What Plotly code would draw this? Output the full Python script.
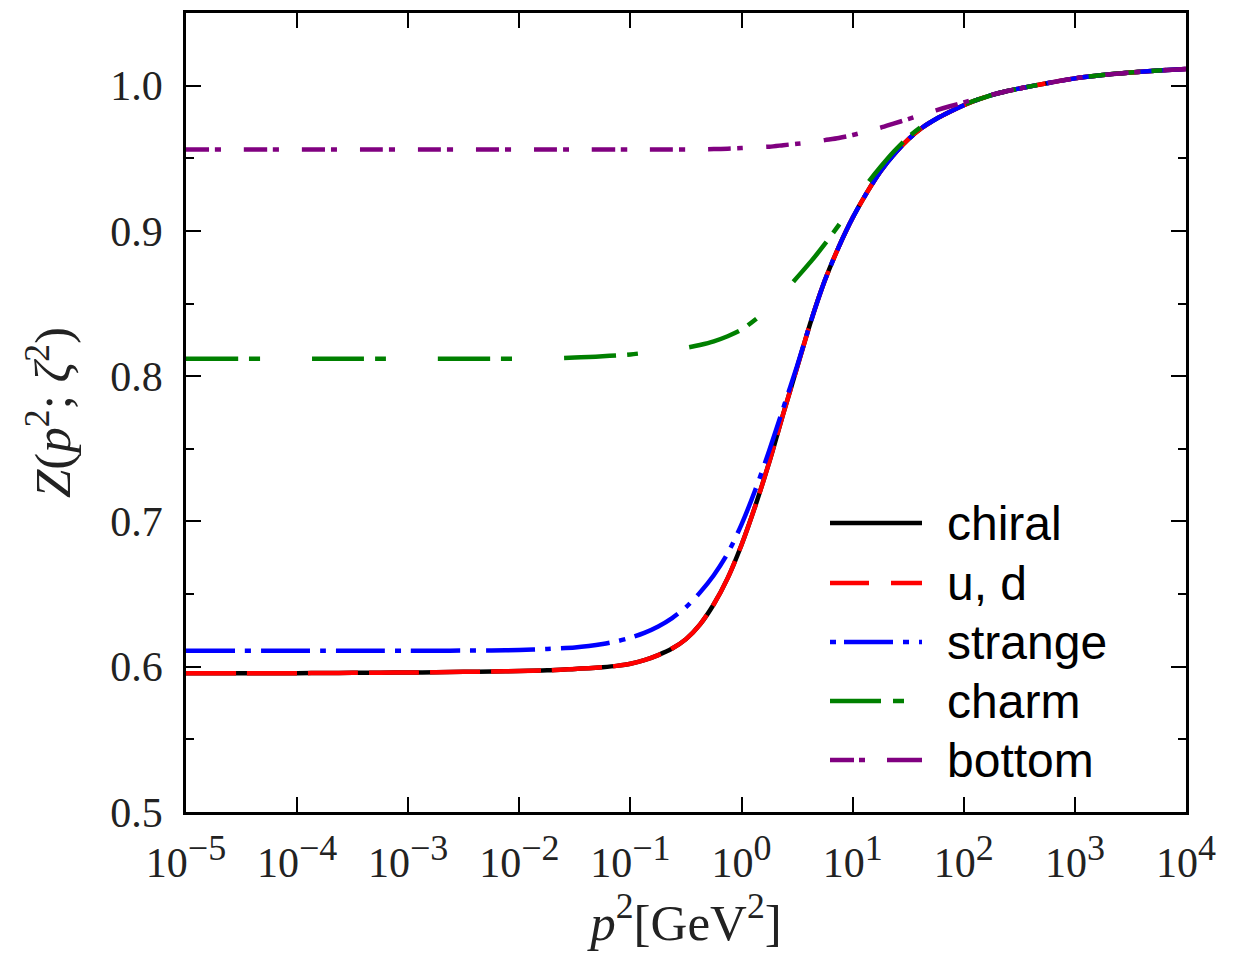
import plotly.graph_objects as go

# log10(p^2) grid, p^2 in GeV^2
log_p2 = [-5.0, -4.75, -4.5, -4.25, -4.0, -3.75, -3.5, -3.25, -3.0, -2.75, -2.5, -2.25, -2.0, -1.75, -1.5,
          -1.375, -1.25, -1.125, -1.0, -0.875, -0.75, -0.625, -0.5, -0.375, -0.25, -0.125, 0.0,
          0.125, 0.25, 0.375, 0.5, 0.625, 0.75, 0.875, 1.0, 1.125, 1.25, 1.375, 1.5, 1.625, 1.75,
          1.875, 2.0, 2.125, 2.25, 2.375, 2.5,
          2.75, 3.0, 3.25, 3.5, 3.75, 4.0]
p2 = [10 ** v for v in log_p2]

z_chiral = [0.5955, 0.5955, 0.5955, 0.5955, 0.5955, 0.5957, 0.5958, 0.5959, 0.596, 0.5962, 0.5965, 0.5967, 0.597, 0.5975, 0.5985,
            0.599, 0.5997, 0.6006, 0.602, 0.6045, 0.608, 0.6125, 0.619, 0.629, 0.643, 0.661, 0.684,
            0.711, 0.741, 0.774, 0.806, 0.838, 0.866, 0.889, 0.909, 0.926, 0.941, 0.953, 0.963, 0.971, 0.977,
            0.982, 0.9865, 0.9903, 0.9935, 0.996, 0.998,
            1.0017, 1.005, 1.0073, 1.009, 1.0104, 1.0115]
z_ud = [0.5955, 0.5955, 0.5955, 0.5955, 0.5955, 0.5957, 0.5958, 0.5959, 0.596, 0.5962, 0.5965, 0.5967, 0.597, 0.5975, 0.5985,
        0.599, 0.5997, 0.6006, 0.602, 0.6045, 0.608, 0.6125, 0.619, 0.629, 0.643, 0.661, 0.684,
        0.711, 0.741, 0.774, 0.806, 0.838, 0.866, 0.889, 0.909, 0.926, 0.941, 0.953, 0.963, 0.971, 0.977,
        0.982, 0.9865, 0.9903, 0.9935, 0.996, 0.998,
        1.0017, 1.005, 1.0073, 1.009, 1.0104, 1.0115]
z_strange = [0.611, 0.611, 0.611, 0.611, 0.611, 0.611, 0.611, 0.611, 0.611, 0.611, 0.6111, 0.6112, 0.6115, 0.6122, 0.6132,
             0.6142, 0.6156, 0.6175, 0.620, 0.6233, 0.6277, 0.6335, 0.641, 0.651, 0.663, 0.678, 0.698,
             0.722, 0.749, 0.778, 0.807, 0.838, 0.866, 0.889, 0.909, 0.926, 0.941, 0.953, 0.963, 0.971, 0.977,
             0.982, 0.9865, 0.9903, 0.9935, 0.996, 0.998,
             1.0017, 1.005, 1.0073, 1.009, 1.0104, 1.0115]
z_charm = [0.812, 0.812, 0.812, 0.812, 0.812, 0.812, 0.812, 0.812, 0.812, 0.812, 0.812, 0.812, 0.812, 0.8123, 0.8128,
           0.8132, 0.8137, 0.8143, 0.815, 0.816, 0.817, 0.818, 0.8195, 0.8215, 0.824, 0.8275, 0.832,
           0.839, 0.847, 0.857, 0.868, 0.879, 0.891, 0.904, 0.918, 0.932, 0.944, 0.955, 0.9645, 0.972, 0.978,
           0.9825, 0.9868, 0.9903, 0.9935, 0.996, 0.998,
           1.0017, 1.005, 1.0073, 1.009, 1.0104, 1.0115]
z_bottom = [0.956, 0.956, 0.956, 0.956, 0.956, 0.956, 0.956, 0.956, 0.956, 0.956, 0.956, 0.956, 0.956, 0.956, 0.956,
            0.956, 0.956, 0.956, 0.956, 0.956, 0.956, 0.956, 0.956, 0.9561, 0.9563, 0.9566, 0.957,
            0.9575, 0.958, 0.959, 0.960, 0.961, 0.9625, 0.964, 0.966, 0.9685, 0.971, 0.974, 0.977, 0.980, 0.983,
            0.9858, 0.9885, 0.9912, 0.9937, 0.996, 0.998,
            1.0017, 1.005, 1.0073, 1.009, 1.0104, 1.0115]

names = ["chiral", "u, d", "strange", "charm", "bottom"]
colors = ["black", "#ff0000", "#0000ff", "#008000", "#800080"]
dashes = ["solid", "50px,11px", "49px,10px,6px,10px", "52px,11px,11px,52px", "23px,6px,6px,23px"]
legend_dashes = ["solid", "39px,22px", "6px,8px,49px,10px,6px,10px,6px",
                 "51px,12px,11px,80px", "24px,5px,6px,22px,35px"]
series = [z_chiral, z_ud, z_strange, z_charm, z_bottom]

sup = "<sup><span style='font-size:36px'>{}</span></sup>"
x_tickvals = [1e-5, 1e-4, 1e-3, 1e-2, 1e-1, 1e0, 1e1, 1e2, 1e3, 1e4]
x_exponents = ["\u22125", "\u22124", "\u22123", "\u22122", "\u22121", "0", "1", "2", "3", "4"]
x_ticktext = ["10" + sup.format(e) for e in x_exponents]
y_tickvals = [0.5, 0.6, 0.7, 0.8, 0.9, 1.0]
y_ticktext = ["0.5", "0.6", "0.7", "0.8", "0.9", "1.0"]

fig = go.Figure()
for name, col, dash, ys in zip(names, colors, dashes, series):
    fig.add_trace(go.Scatter(x=p2, y=ys, mode="lines", name=name,
                             line=dict(color=col, width=4.5, dash=dash, shape="spline", smoothing=0.8),
                             showlegend=False))

# custom legend (long line samples like the original)
W, H = 1239, 954
L, R, T, B = 186, 53, 13, 142
pw, ph = W - L - R, H - T - B
def px(x):
    return (x - L) / pw
def py(y):
    return (H - B - y) / ph

leg_y = [523, 583, 642, 701, 760]
for name, col, dash, yy in zip(names, colors, legend_dashes, leg_y):
    fig.add_shape(type="line", xref="paper", yref="paper",
                  x0=px(830), x1=px(922), y0=py(yy), y1=py(yy),
                  line=dict(color=col, width=4.5, dash=dash))
    fig.add_annotation(xref="paper", yref="paper", x=px(945), y=py(yy),
                       text=name, showarrow=False, xanchor="left", yanchor="middle",
                       font=dict(family="Liberation Sans, Arial", size=48, color="black"))

tickfont = dict(family="Liberation Serif, Times New Roman, serif", size=42, color="#222")
titlefont = dict(family="Liberation Serif, Times New Roman, serif", size=51, color="#222")
fig.update_xaxes(type="log", range=[-5, 4], tickvals=x_tickvals, ticktext=x_ticktext,
                 ticks="inside", ticklen=15, tickwidth=2.2, tickcolor="black",
                 showline=True, linecolor="black", linewidth=2.5, mirror="ticks",
                 showgrid=False, zeroline=False, tickfont=tickfont, ticklabelstandoff=12,
                 title=dict(text="<i>p</i><sup>2</sup>[GeV<sup>2</sup>]", standoff=16, font=titlefont))
fig.update_yaxes(range=[0.5, 1.05], tickvals=y_tickvals, ticktext=y_ticktext,
                 ticks="inside", ticklen=15, tickwidth=2.2, tickcolor="black",
                 minor=dict(ticks="inside", ticklen=8, tickwidth=2.2, tickcolor="black", dtick=0.05,
                            tick0=0.5, showgrid=False),
                 showline=True, linecolor="black", linewidth=2.5, mirror="ticks",
                 showgrid=False, zeroline=False, tickfont=tickfont, ticklabelstandoff=12,
                 title=dict(text="<i>Z</i>(<i>p</i><sup>2</sup>; <i>\u03b6</i><sup>2</sup>)", standoff=24,
                            font=titlefont))

fig.update_layout(width=W, height=H, margin=dict(l=L, r=R, t=T, b=B, autoexpand=False),
                  paper_bgcolor="white", plot_bgcolor="white", showlegend=False)

fig.write_html("out.html")
